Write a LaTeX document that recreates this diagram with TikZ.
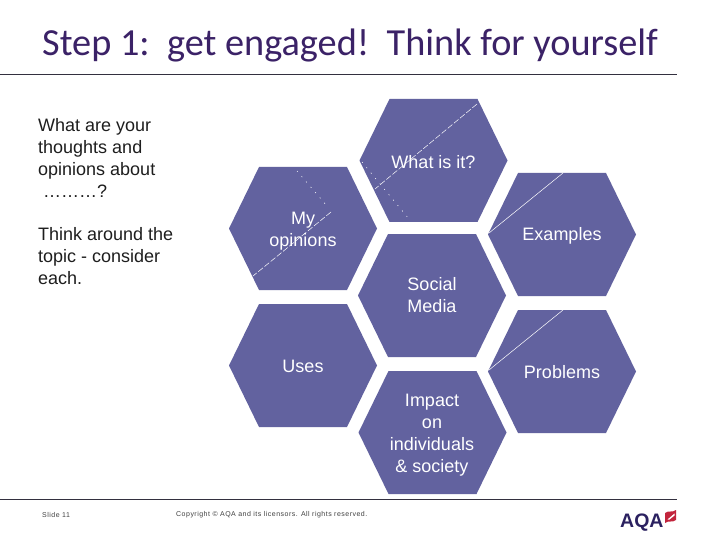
\documentclass[tikz,border=0pt]{standalone}
\usepackage{fontspec}
\setmainfont{Liberation Sans}
\newfontfamily\titlefont{Carlito}
\newfontfamily\footfont[LetterSpace=7]{Liberation Sans}
\definecolor{hexfill}{HTML}{62629F}
\definecolor{titlecol}{HTML}{3B2267}
\definecolor{rulecol}{HTML}{33303F}
\definecolor{bodytext}{HTML}{1E1E1E}
\definecolor{aqanavy}{HTML}{2B2160}
\definecolor{aqared}{HTML}{C2243C}
\tikzset{
  hextext/.style={text=white,align=center,inner sep=0pt,font=\fontsize{18}{22}\selectfont},
  bodynode/.style={text=bodytext,align=left,anchor=north west,inner sep=0pt,font=\fontsize{18}{22}\selectfont},
  footnode/.style={text=black!75,anchor=west,inner sep=0pt,font=\footfont\fontsize{7}{8}\selectfont},
  rulenode/.style={draw=rulecol,line width=1pt},
  dashline/.style={draw=white,line width=0.5pt,dash pattern=on 6pt off 2pt},
  dotline/.style={draw=white,line width=0.6pt,dash pattern=on 1pt off 6pt},
  thinline/.style={draw=white,line width=0.5pt},
  hexa/.pic={\fill[hexfill] (-74,0) -- (-44,-61.5) -- (44,-61.5) -- (74,0) -- (44,61.5) -- (-44,61.5) -- cycle;}
}
\begin{document}
\begin{tikzpicture}[x=1pt,y=-1pt]
\useasboundingbox (0,0) rectangle (720,540);
\fill[white] (0,0) rectangle (720,540);
% title and rules
\node[anchor=west,inner sep=0pt,text=titlecol,font=\titlefont\fontsize{38.3}{42}\selectfont] (title) at (42,45) {Step 1:\ \ get engaged!\ \ Think for yourself};
\coordinate (h1) at (0,75); \coordinate (h2) at (677,75);
\coordinate (f1) at (0,499.5); \coordinate (f2) at (677,499.5);
\draw[rulenode] (h1) -- (h2);
\draw[rulenode] (f1) -- (f2);
% hexagons
\pic at (433.5,160.5) {hexa};
\pic at (303,228.5) {hexa};
\pic at (562,234.5) {hexa};
\pic at (432,295.5) {hexa};
\pic at (303,365.5) {hexa};
\pic at (562,371.5) {hexa};
\pic at (432.5,432.5) {hexa};
% thin white lines
\coordinate (a1) at (477,104); \coordinate (a2) at (375,189);
\coordinate (a3) at (362,162); \coordinate (a4) at (409,219);
\coordinate (b1) at (331,212); \coordinate (b2) at (253,276);
\coordinate (b3) at (297,171); \coordinate (b4) at (327,206);
\coordinate (c1) at (563,173); \coordinate (c2) at (489,233);
\coordinate (d1) at (563,310); \coordinate (d2) at (489,370);
\draw[dashline] (a1) -- (a2);
\draw[dotline] (a3) -- (a4);
\draw[dashline] (b1) -- (b2);
\draw[dotline] (b3) -- (b4);
\draw[thinline] (c1) -- (c2);
\draw[thinline] (d1) -- (d2);
% hexagon labels
\node[hextext] (what) at (433.5,162) {What is it?};
\node[hextext] (opin) at (303,231) {My\\opinions};
\node[hextext] (exam) at (562,235.5) {Examples};
\node[hextext] (soci) at (432,295.5) {Social\\Media};
\node[hextext] (uses) at (303,366.5) {Uses};
\node[hextext] (prob) at (562,372.5) {Problems};
\node[hextext] (impa) at (432,435) {Impact\\on\\individuals\\\&\ society};
% left text
\node[bodynode] (q1) at (38,118) {What are your\\thoughts and\\opinions about\\\ ………?};
\node[bodynode] (q2) at (38,227) {Think around the\\topic - consider\\each.};
% footer
\node[footnode] (slide) at (42,515) {Slide 11};
\node[footnode] (copy) at (176,515) {Copyright © AQA and its licensors. All rights reserved.};
% logo
\node[anchor=west,inner sep=0pt,text=aqanavy,font=\bfseries\fontsize{19.5}{20}\selectfont] (aqa) at (620,522.5) {AQA};
\fill[aqared] (665,513) .. controls (669,510) and (672,513) .. (676,510) -- (676,520) .. controls (672,523) and (669,520) .. (665,523) -- cycle;
\fill[white] (667.5,519.5) -- (674.5,513.5) -- (674.5,515.5) -- (669.5,519.5) -- cycle;
\end{tikzpicture}
\end{document}
